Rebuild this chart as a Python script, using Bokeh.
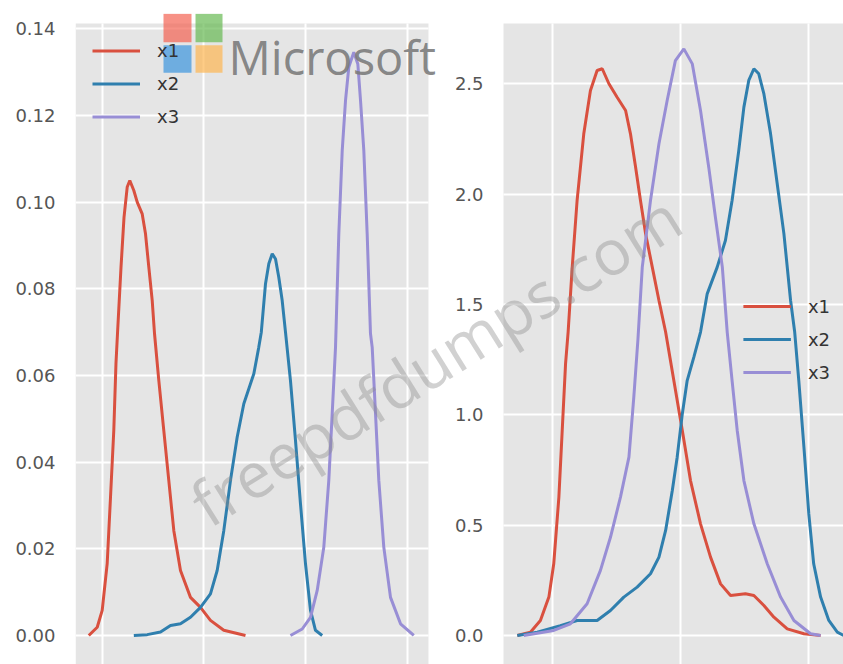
from bokeh.plotting import figure
from bokeh.models import (FixedTicker, PrintfTickFormatter, Label, BoxAnnotation, Range1d,
                          LinearAxis, Grid, Legend, LegendItem)
from bokeh.embed import file_html
from bokeh.resources import INLINE

# ---------------- data ----------------
series = ["x1", "x2", "x3"]
colors = ["#D9503F", "#2F7FAE", "#988ED5"]

# Left panel (original distributions), KDE curves
l_x1_x = [-2.64, -0.98, 0.0, 0.98, 1.63, 2.28, 2.71, 3.01, 3.70, 4.29, 4.92, 5.43,
          6.22, 6.89, 7.87, 8.52, 9.17, 9.84, 10.29, 11.14, 12.12, 13.1, 14.09,
          15.4, 17.37, 19.34, 21.3, 23.92, 28.19]
l_x1_y = [0.0, 0.0019, 0.0058, 0.0166, 0.0318, 0.0473, 0.0628, 0.0697, 0.085, 0.0965,
          0.1035, 0.105, 0.1027, 0.100, 0.0973, 0.0927, 0.085, 0.0773, 0.0697, 0.0588,
          0.0473, 0.0358, 0.0242, 0.015, 0.0088, 0.0065, 0.0035, 0.0012, 0.0]

l_x2_x = [6.22, 8.85, 11.47, 13.44, 15.4, 17.37, 19.34, 21.3, 22.62, 23.92, 25.24,
          26.56, 27.86, 29.83, 30.8, 31.3, 32.13, 32.78, 33.45, 34.1, 34.74, 35.41,
          36.06, 37.04, 38.03, 39.01, 40.0, 40.98, 41.96, 43.28]
l_x2_y = [0.0, 0.0002, 0.0008, 0.0023, 0.0027, 0.0042, 0.0065, 0.0096, 0.015, 0.0242,
          0.0358, 0.0458, 0.0535, 0.0604, 0.0665, 0.0700, 0.0812, 0.0858, 0.0881,
          0.0869, 0.0827, 0.0773, 0.0700, 0.0588, 0.045, 0.0304, 0.0165, 0.0058,
          0.0012, 0.0]

l_x3_x = [37.04, 39.35, 40.98, 42.3, 43.6, 44.58, 45.25, 45.9, 46.55, 47.22, 47.87,
          48.52, 49.5, 50.29, 50.82, 51.47, 52.13, 52.78, 53.12, 53.77, 54.42, 55.4,
          56.72, 58.69, 61.3]
l_x3_y = [0.0, 0.0015, 0.0042, 0.0104, 0.0204, 0.0358, 0.0512, 0.0665, 0.0927, 0.1119,
          0.1235, 0.1312, 0.1346, 0.1319, 0.1235, 0.1119, 0.0927, 0.0697, 0.0665,
          0.0512, 0.0358, 0.0204, 0.0088, 0.0027, 0.0]

# Right panel (after scaling), KDE curves
r_x1_x = [-0.136, -0.085, -0.046, -0.013, 0.006, 0.026, 0.039, 0.052, 0.062, 0.078,
          0.097, 0.123, 0.149, 0.175, 0.195, 0.221, 0.253, 0.286, 0.305, 0.325, 0.344,
          0.364, 0.39, 0.416, 0.442, 0.474, 0.507, 0.539, 0.578, 0.617, 0.656, 0.695,
          0.753, 0.786, 0.825, 0.864, 0.916, 0.981, 1.046]
r_x1_y = [0.0, 0.015, 0.068, 0.174, 0.325, 0.627, 0.929, 1.231, 1.375, 1.669, 1.971,
          2.273, 2.469, 2.56, 2.568, 2.5, 2.439, 2.379, 2.273, 2.122, 1.971, 1.82,
          1.669, 1.518, 1.375, 1.155, 0.929, 0.702, 0.506, 0.355, 0.234, 0.181, 0.189,
          0.181, 0.136, 0.083, 0.03, 0.008, 0.0]

r_x2_x = [-0.136, -0.058, 0.032, 0.097, 0.175, 0.227, 0.279, 0.331, 0.383, 0.416,
          0.442, 0.468, 0.487, 0.507, 0.526, 0.552, 0.578, 0.604, 0.643, 0.675, 0.701,
          0.727, 0.747, 0.766, 0.786, 0.805, 0.825, 0.851, 0.877, 0.903, 0.929, 0.945,
          0.961, 0.981, 1.0, 1.019, 1.046, 1.078, 1.111, 1.136]
r_x2_y = [0.0, 0.015, 0.045, 0.068, 0.068, 0.113, 0.174, 0.219, 0.28, 0.355, 0.476,
          0.657, 0.808, 1.004, 1.155, 1.261, 1.375, 1.548, 1.669, 1.79, 1.971, 2.197,
          2.394, 2.515, 2.568, 2.545, 2.454, 2.273, 2.046, 1.82, 1.518, 1.375, 1.155,
          0.853, 0.551, 0.325, 0.174, 0.068, 0.015, 0.0]

r_x3_x = [-0.111, 0.006, 0.071, 0.136, 0.188, 0.227, 0.266, 0.299, 0.318, 0.334,
          0.351, 0.383, 0.416, 0.448, 0.48, 0.513, 0.546, 0.578, 0.61, 0.636, 0.663,
          0.682, 0.701, 0.721, 0.747, 0.786, 0.838, 0.89, 0.942, 1.007, 1.046]
r_x3_y = [0.0, 0.023, 0.053, 0.144, 0.295, 0.445, 0.627, 0.808, 1.08, 1.34, 1.669,
          1.971, 2.228, 2.424, 2.605, 2.658, 2.59, 2.379, 2.122, 1.895, 1.669, 1.375,
          1.155, 0.929, 0.702, 0.506, 0.325, 0.174, 0.068, 0.008, 0.0]

left_yticks = [0.0, 0.02, 0.04, 0.06, 0.08, 0.10, 0.12, 0.14]
left_xticks = [0, 20, 40, 60]
right_yticks = [0.0, 0.5, 1.0, 1.5, 2.0, 2.5]
right_xticks = [0.0, 0.5, 1.0]

# panel extents (data units of each panel)
L_X = (-5.253, 64.19)
L_TOP = 0.14124
R_X = (-0.1898, 1.1352)
R_TOP = 2.773

BG = "#E5E5E5"
TICK_FONT = "DejaVu Sans"

# one canvas: left panel on the default ranges, right panel on extra ranges "r"
p = figure(width=843, height=664, x_range=(L_X[0], 145.84), y_range=(-0.006693, 0.14355),
           output_backend="svg", toolbar_location=None, title=None,
           min_border=0, min_border_left=75, min_border_right=0,
           min_border_top=13, min_border_bottom=0)
p.extra_x_ranges = {"r": Range1d(-1.8578, R_X[1])}
p.extra_y_ranges = {"r": Range1d(-0.1314, 2.8183)}
p.background_fill_color = "white"
p.border_fill_color = "white"
p.outline_line_color = None
p.xaxis.visible = False

# panel backgrounds
p.add_layout(BoxAnnotation(right=L_X[1], top=L_TOP, fill_color=BG, fill_alpha=1,
                           line_color=None, level="image"))
p.add_layout(BoxAnnotation(left=R_X[0], top=R_TOP, x_range_name="r", y_range_name="r",
                           fill_color=BG, fill_alpha=1, line_color=None, level="image"))

# grids
p.xgrid.ticker = FixedTicker(ticks=left_xticks)
p.xgrid.cross_bounds = (-0.006693, L_TOP)
p.ygrid.ticker = FixedTicker(ticks=left_yticks)
p.ygrid.cross_bounds = L_X
p.add_layout(Grid(dimension=0, ticker=FixedTicker(ticks=right_xticks), x_range_name="r",
                  y_range_name="r", cross_bounds=(-0.1314, R_TOP)))
p.add_layout(Grid(dimension=1, ticker=FixedTicker(ticks=right_yticks), x_range_name="r",
                  y_range_name="r", cross_bounds=R_X))
p.grid.grid_line_color = "white"
p.grid.grid_line_width = 2

# y axes
yaxis_r = LinearAxis(x_range_name="r", y_range_name="r", fixed_location=R_X[0])
p.add_layout(yaxis_r, "left")
for ax, ticks, fmt in [(p.yaxis[0], left_yticks, "%.2f"), (yaxis_r, right_yticks, "%.1f")]:
    ax.ticker = FixedTicker(ticks=ticks)
    ax.formatter = PrintfTickFormatter(format=fmt)
    ax.axis_line_color = None
    ax.major_tick_line_color = None
    ax.minor_tick_line_color = None
    ax.major_tick_out = 0
    ax.major_tick_in = 0
    ax.major_label_standoff = 20
    ax.major_label_text_font = TICK_FONT
    ax.major_label_text_font_size = "18px"
    ax.major_label_text_color = "#555555"

# curves
left_items, right_items = [], []
for name, xs, ys, c in zip(series, [l_x1_x, l_x2_x, l_x3_x], [l_x1_y, l_x2_y, l_x3_y], colors):
    r = p.line(xs, ys, line_color=c, line_width=3)
    left_items.append(LegendItem(label=name, renderers=[r]))
for name, xs, ys, c in zip(series, [r_x1_x, r_x2_x, r_x3_x], [r_x1_y, r_x2_y, r_x3_y], colors):
    r = p.line(xs, ys, line_color=c, line_width=3, x_range_name="r", y_range_name="r")
    right_items.append(LegendItem(label=name, renderers=[r]))

for items, loc, margin in [(left_items, (17, 537), 0),
                           (right_items, "center_right", 13)]:
    p.add_layout(Legend(items=items, location=loc, margin=margin, padding=0,
                        glyph_width=48, glyph_height=21, label_height=21, spacing=12,
                        label_standoff=17, background_fill_alpha=0, border_line_color=None,
                        label_text_font=TICK_FONT, label_text_font_size="18px",
                        label_text_color="#333333"))

# watermark logo and texts
logo = [((12.06, 17.57), (0.1369, 0.1435), "#F36352"),
        ((18.36, 23.67), (0.1369, 0.1435), "#67B952"),
        ((12.06, 17.57), (0.1299, 0.1362), "#3C96DE"),
        ((18.36, 23.67), (0.1299, 0.1362), "#FDB653")]
for (l, rr), (b, t), c in logo:
    p.add_layout(BoxAnnotation(left=l, right=rr, bottom=b, top=t, fill_color=c,
                               fill_alpha=0.7, line_color=None))
p.add_layout(Label(x=24.85, y=0.1334, text="Microsoft", text_font="Open Sans",
                   text_font_size="47px", text_color="#7A7A7A", text_alpha=0.9,
                   text_baseline="alphabetic", text_align="left"))
p.add_layout(Label(x=18.55, y=0.02931, text="freepdfdumps.com", text_font="Open Sans",
                   text_font_size="63px", text_color="#8C8C8C", text_alpha=0.4,
                   angle=32, angle_units="deg", text_align="left",
                   text_baseline="alphabetic"))

open("out.html", "w").write(file_html(p, INLINE))
